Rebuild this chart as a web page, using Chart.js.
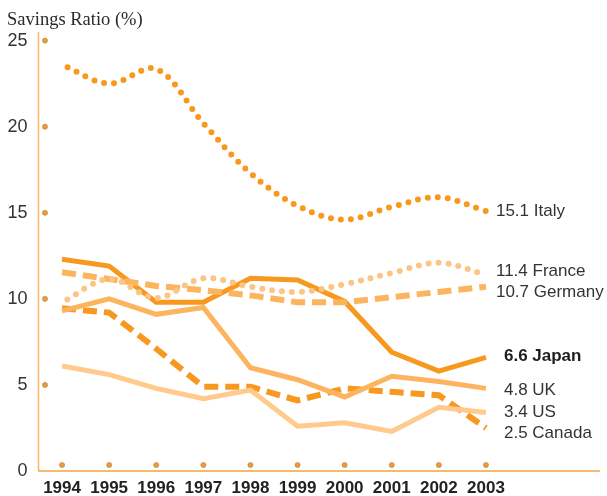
<!DOCTYPE html>
<html>
<head>
<meta charset="utf-8">
<script src="https://cdn.jsdelivr.net/npm/chart.js@4/dist/chart.umd.min.js"></script>
<style>
  html, body { margin: 0; padding: 0; background: #ffffff; }
  canvas { display: block; }
</style>
</head>
<body>
<canvas id="chart" width="607" height="496"></canvas>
<script>
// Household savings ratio (%), 1994-2003
const years   = ['1994', '1995', '1996', '1997', '1998', '1999', '2000', '2001', '2002', '2003'];
const italy   = [23.6, 22.5, 23.35, 20.2, 17.3, 15.4, 14.6, 15.35, 15.9, 15.1];
const france  = [9.8, 11.15, 10.05, 11.2, 10.7, 10.4, 10.85, 11.5, 12.1, 11.4];
const germany = [11.55, 11.15, 10.75, 10.5, 10.2, 9.8, 9.8, 10.1, 10.4, 10.7];
const japan   = [12.3, 11.9, 9.8, 9.8, 11.2, 11.1, 9.85, 6.9, 5.8, 6.6];
const uk      = [9.3, 10.0, 9.1, 9.5, 6.0, 5.3, 4.3, 5.5, 5.2, 4.8];
const us      = [6.1, 5.6, 4.8, 4.2, 4.7, 2.6, 2.8, 2.3, 3.7, 3.4];
const canada  = [9.45, 9.2, 7.1, 4.9, 4.9, 4.1, 4.8, 4.6, 4.4, 2.5];
const yTicks  = [0, 5, 10, 15, 20, 25];
const titleText = 'Savings Ratio (%)';

// End-of-line label placement: extra x offset and vertical nudge (px)
const labelDx    = [10, 10, 10, 18, 18, 18, 18];
const labelNudge = [0, -3, 6, -1, 2, 0, 5];

const DARK = '#F7981F';
const MID = '#FDB45F';
const LIGHT = '#FDC583';
const PALE = '#FFCA8C';

const dotted = (color) => ({ borderColor: color, borderWidth: 6, borderDash: [0, 10], borderDashOffset: 4, borderCapStyle: 'round', tension: 0.35 });
const dashed = (color) => ({ borderColor: color, borderWidth: 6, borderDash: [14, 7], borderCapStyle: 'butt', tension: 0 });
const solid  = (color) => ({ borderColor: color, borderWidth: 5, borderCapStyle: 'butt', borderJoinStyle: 'miter', tension: 0 });

const series = [
  { name: 'Italy',   data: italy,   style: dotted(DARK),  bold: false },
  { name: 'France',  data: france,  style: dotted(LIGHT), bold: false },
  { name: 'Germany', data: germany, style: dashed(MID),   bold: false },
  { name: 'Japan',   data: japan,   style: solid(DARK),   bold: true },
  { name: 'UK',      data: uk,      style: solid(MID),    bold: false },
  { name: 'US',      data: us,      style: solid(PALE),   bold: false },
  { name: 'Canada',  data: canada,  style: dashed(DARK),  bold: false }
];

const SANS = '"Liberation Sans", Arial, sans-serif';

// Axis lines, tick dots, title and end labels
const decor = {
  id: 'decor',
  beforeDatasetsDraw(chart) {
    const { ctx, chartArea, scales } = chart;
    const x = scales.x, y = scales.y;
    ctx.save();
    // vertical axis
    ctx.strokeStyle = '#F9B66B';
    ctx.lineWidth = 1.5;
    ctx.beginPath();
    ctx.moveTo(chartArea.left, chartArea.top);
    ctx.lineTo(chartArea.left, y.getPixelForValue(0));
    ctx.stroke();
    // horizontal axis
    ctx.strokeStyle = '#F4A040';
    ctx.beginPath();
    ctx.moveTo(chartArea.left, y.getPixelForValue(0));
    ctx.lineTo(600, y.getPixelForValue(0));
    ctx.stroke();
    // tick dots
    ctx.fillStyle = '#F29A2E';
    ctx.strokeStyle = 'rgba(140,120,95,0.55)';
    ctx.lineWidth = 0.8;
    const dot = (px, py) => { ctx.beginPath(); ctx.arc(px, py, 2.6, 0, Math.PI * 2); ctx.fill(); ctx.stroke(); };
    yTicks.filter(v => v > 0).forEach(v => dot(chartArea.left + 6.5, y.getPixelForValue(v)));
    years.forEach((_, i) => dot(x.getPixelForValue(i), y.getPixelForValue(0) - 6));
    ctx.restore();
  },
  afterDraw(chart) {
    const { ctx, scales } = chart;
    const x = scales.x, y = scales.y;
    ctx.save();
    ctx.fillStyle = '#2b2b2b';
    ctx.textBaseline = 'alphabetic';
    ctx.textAlign = 'left';
    ctx.font = '18.5px "Liberation Serif", "Times New Roman", serif';
    ctx.fillText(titleText, 7, 25);
    ctx.textBaseline = 'middle';
    const lastX = x.getPixelForValue(years.length - 1);
    series.forEach((s, i) => {
      const v = s.data[s.data.length - 1];
      ctx.font = (s.bold ? 'bold ' : '') + '17px ' + SANS;
      ctx.fillStyle = s.bold ? '#1e1e1e' : '#333333';
      ctx.fillText(v.toFixed(1) + ' ' + s.name, lastX + labelDx[i], y.getPixelForValue(v) + labelNudge[i]);
    });
    ctx.restore();
  }
};

new Chart(document.getElementById('chart'), {
  type: 'line',
  data: {
    labels: years,
    datasets: series.map(s => Object.assign({ label: s.name, data: s.data, pointRadius: 0, pointHoverRadius: 0, fill: false }, s.style))
  },
  options: {
    responsive: false,
    animation: false,
    devicePixelRatio: 1,
    layout: { padding: { top: 32, right: 97.5, bottom: 0, left: 0 } },
    plugins: { legend: { display: false }, tooltip: { enabled: false }, title: { display: false } },
    scales: {
      x: {
        type: 'category',
        offset: true,
        grid: { display: false, drawTicks: false },
        border: { display: false },
        ticks: { color: '#222222', font: { family: SANS, size: 17, weight: 'bold' }, padding: 7, maxRotation: 0, autoSkip: false },
        afterFit(scale) { scale.height = 25; }
      },
      y: {
        min: 0,
        max: 25.5,
        grid: { display: false, drawTicks: false },
        border: { display: false },
        ticks: { stepSize: 5, color: '#333333', font: { family: SANS, size: 18 }, padding: 11 },
        afterBuildTicks(scale) { scale.ticks = yTicks.map(v => ({ value: v })); },
        afterFit(scale) { scale.width = 38.5; }
      }
    }
  },
  plugins: [decor]
});
</script>
</body>
</html>
